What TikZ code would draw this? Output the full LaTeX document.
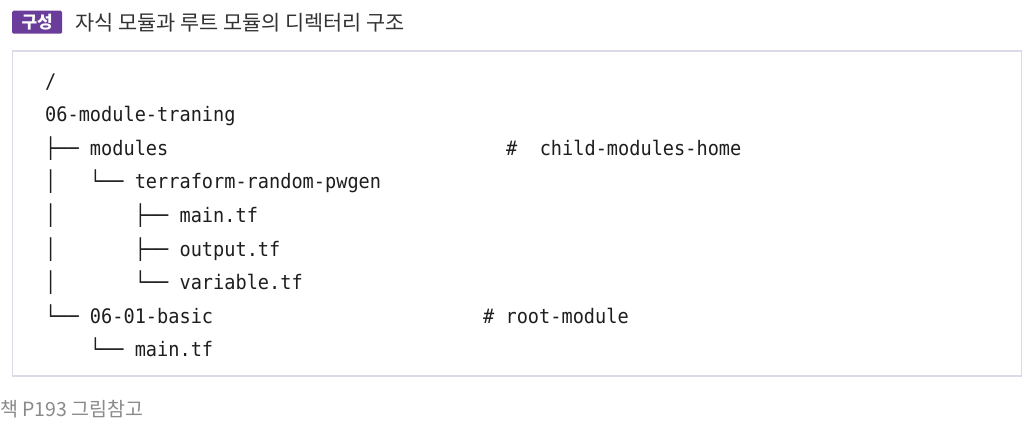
\documentclass[tikz,border=0pt]{standalone}
\usepackage{fontspec}
\newfontfamily\cjk{Noto Sans CJK KR}
\newfontfamily\code[FakeStretch=0.93]{DejaVu Sans Mono}
\definecolor{badge}{HTML}{6A3D9A}
\definecolor{titletext}{HTML}{333333}
\definecolor{boxline}{HTML}{DCDAE8}
\definecolor{codetext}{HTML}{1E1E1E}
\definecolor{captext}{HTML}{8A8A8A}
\tikzset{
  codeline/.style={anchor=base west, inner sep=0pt, text=codetext, font=\code\fontsize{20}{24}\selectfont},
}
\begin{document}
\begin{tikzpicture}[x=1pt,y=-1pt]
\useasboundingbox (0,0) rectangle (1032,426);
\fill[white] (0,0) rectangle (1032,426);
% title badge
\node[fill=badge, rounded corners=1.5pt, minimum width=50pt, minimum height=23pt, inner sep=0pt, anchor=north west, text=white, font=\cjk\bfseries\fontsize{17}{20}\selectfont] (badge) at (12,10.5) {구성};
\node[anchor=base west, inner sep=0pt, text=titletext, font=\cjk\fontsize{20.8}{24}\selectfont] (title) at (75,30.5) {자식 모듈과 루트 모듈의 디렉터리 구조};
% frame
\draw[boxline, line width=1.4pt, fill=white] (12.5,51) rectangle (1021.5,376) coordinate (framecorner);
% code lines
\node[codeline] (l0) at (45,88.1) {/};
\node[codeline] (l1) at (45,121.7) {06-module-traning};
\node[codeline] (l2) at (45,155.3) {├── modules};
\node[codeline] (c2) at (506,155.3) {\#\ \ child-modules-home};
\node[codeline] (l3) at (45,188.9) {│\ \ \ └── terraform-random-pwgen};
\node[codeline] (l4) at (45,222.5) {│\ \ \ \ \ \ \ ├── main.tf};
\node[codeline] (l5) at (45,256.1) {│\ \ \ \ \ \ \ ├── output.tf};
\node[codeline] (l6) at (45,289.7) {│\ \ \ \ \ \ \ └── variable.tf};
\node[codeline] (l7) at (45,323.3) {└── 06-01-basic};
\node[codeline] (c7) at (483,323.3) {\# root-module};
\node[codeline] (l8) at (45,356.9) {\ \ \ \ └── main.tf};
% caption
\node[anchor=base west, inner sep=0pt, text=captext, font=\cjk\fontsize{19.5}{22}\selectfont] (caption) at (0,416) {책 P193 그림참고};
\end{tikzpicture}
\end{document}
